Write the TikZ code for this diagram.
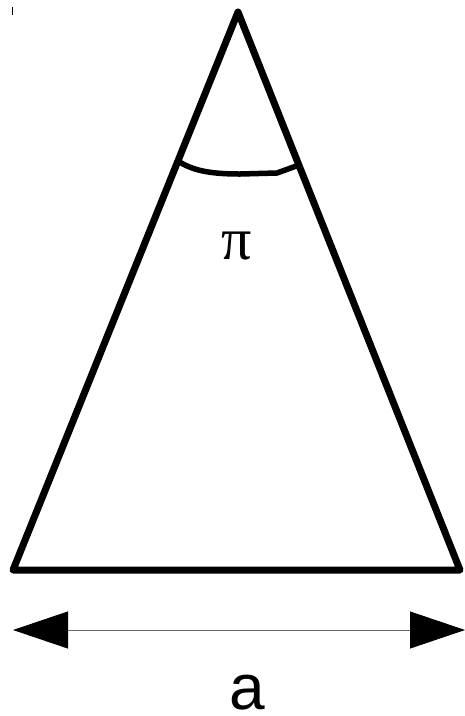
\documentclass[tikz,border=0pt]{standalone}
\usepackage{fontspec}
\setsansfont{Liberation Sans}
\newfontfamily\greekfont{Liberation Serif}
\usepackage{tikz}
\usetikzlibrary{arrows.meta}

\begin{document}
\begin{tikzpicture}[
    x=1pt, y=-1pt,
    edge/.style   = {line width=7pt, line join=round, line cap=round},
    angmark/.style = {line width=5.5pt, line join=round, line cap=round},
    dim/.style    = {{Triangle[length=55pt, width=37pt, color=black]}-{Triangle[length=55pt, width=37pt, color=black]},
                     line width=0.8pt, draw=black!60},
    lbl/.style    = {inner sep=0pt},
  ]
  \useasboundingbox (0,0) rectangle (465,716);

  % vertices of the triangle
  \coordinate (apex)  at (238,12);
  \coordinate (left)  at (13,570);
  \coordinate (right) at (460,570);

  \draw[edge] (apex) -- (left) -- (right) -- cycle;

  % angle mark at the apex
  \draw[angmark] (178,161) .. controls (192,170) and (208,174) .. (240,174)
                 -- (277,173) -- (299,165);
  \node[lbl, font=\greekfont\fontsize{60}{60}\selectfont] (angle) at (237,246) {π};

  % base dimension
  \coordinate (dimL) at (13,630);
  \coordinate (dimR) at (465,630);
  \draw[dim] (dimL) -- (dimR);
  \node[lbl, font=\sffamily\fontsize{64}{64}\selectfont] (base) at (247,693) {a};

  \draw[line width=0.8pt] (12,7) -- (12,15);
\end{tikzpicture}
\end{document}
